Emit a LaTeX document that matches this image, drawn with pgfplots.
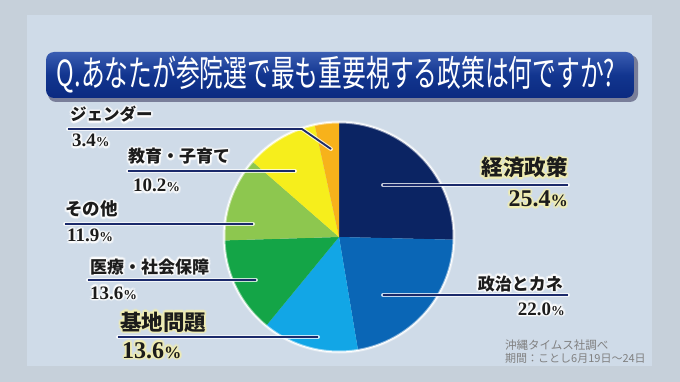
\documentclass[border=0pt]{standalone}
\usepackage{pgfplots}
\pgfplotsset{compat=1.18}
\usepackage{pgfplotstable}
\usepackage{fontspec}
\usepackage{graphicx}
\usetikzlibrary{calc}
\setmainfont{Liberation Serif}
\newfontfamily\jp{Noto Sans CJK JP}
\newfontfamily\num{Liberation Serif}

\definecolor{cA}{HTML}{0B2463}
\definecolor{cB}{HTML}{0A66B6}
\definecolor{cC}{HTML}{12A6E6}
\definecolor{cD}{HTML}{14A547}
\definecolor{cE}{HTML}{8DC74F}
\definecolor{cF}{HTML}{F6EE1C}
\definecolor{cG}{HTML}{F7B21B}
\definecolor{outerbg}{HTML}{C6D0DA}
\definecolor{panel}{HTML}{CFDBE8}
\definecolor{txt}{HTML}{1C1C1C}
\definecolor{lead}{HTML}{1B2A6B}
\definecolor{glowY}{HTML}{F3EFB0}
\definecolor{banT}{HTML}{3A5DB2}
\definecolor{banM}{HTML}{12358F}
\definecolor{banB}{HTML}{0B2A80}

\pgfplotstableread{
label v col
Keizai 25.4 cA
Seiji 22.0 cB
Kichi 13.6 cC
Iryo 13.6 cD
Sonota 11.9 cE
Kyoiku 10.2 cF
Gender 3.4 cG
}\piedata

% build the sector plots from the table
\def\plotcmds{}
\def\cum{0}
\pgfplotsforeachungrouped \k in {0,...,6}{%
  \pgfplotstablegetelem{\k}{v}\of\piedata \edef\val{\pgfplotsretval}%
  \pgfplotstablegetelem{\k}{col}\of\piedata \edef\colr{\pgfplotsretval}%
  \pgfmathsetmacro\astart{90-\cum*3.5964036}%
  \pgfmathsetmacro\newcum{\cum+\val}%
  \pgfmathsetmacro\aend{90-\newcum*3.5964036}%
  \xdef\plotcmds{\unexpanded\expandafter{\plotcmds}\noexpand\addplot[draw=none, fill=\colr, domain=\aend:\astart, samples=80, variable=\noexpand\tt] ({cos(\noexpand\tt)},{sin(\noexpand\tt)}) -- (axis cs:0,0) -- cycle;}%
  \xdef\cum{\newcum}%
}

\newcommand\pc{\scalebox{0.72}{\%}}
% #1 coord, #2 anchor, #3 glow colour, #4 content
\newcommand\glowtext[4]{%
  \foreach \a in {0,30,...,330}{\node[anchor=#2, inner sep=0, text=#3, opacity=.35] at ($(#1)+(\a:2.2pt)$) {#4};}
  \foreach \a in {0,45,...,315}{\node[anchor=#2, inner sep=0, text=#3, opacity=.6] at ($(#1)+(\a:1.1pt)$) {#4};}
  \node[anchor=#2, inner sep=0, text=txt] at (#1) {#4};
}
\newcommand\leader[1]{%
  \draw[white, opacity=.75, line width=4pt, line cap=round, line join=round] #1;
  \draw[lead, line width=1.8pt, line join=round] #1;
}

\begin{document}
\begin{tikzpicture}
\path[use as bounding box] (0pt,0pt) rectangle (680pt,-382pt);
\begin{scope}[x=1pt,y=-1pt]
\fill[outerbg] (0,0) rectangle (680,382);
\fill[panel] (27,15) rectangle (652,366);

% title banner
\fill[black!75!blue!60!gray, opacity=.55, rounded corners=8pt] (48,55) rectangle (638,102);
\shade[rounded corners=8pt, top color=banT, bottom color=banB, middle color=banM] (46,52) rectangle (634,98);
\node[text=white, inner sep=0] at (336,75) {\scalebox{0.66}[1]{\fontsize{36}{36}\selectfont\jp Q.あなたが参院選で最も重要視する政策は何ですか?}};
\end{scope}

\begin{axis}[at={(339pt,-237pt)}, anchor=center, x=115pt, y=115pt,
  xmin=-1, xmax=1, ymin=-1, ymax=1, hide axis, scale only axis,
  no markers, clip=false]
\plotcmds
\addplot[draw=white, opacity=.5, line width=3pt, domain=0:360, samples=181, variable=\tt] ({cos(\tt)},{sin(\tt)});
\addplot[draw=white, line width=1pt, domain=0:360, samples=181, variable=\tt] ({cos(\tt)},{sin(\tt)});
\end{axis}

\begin{scope}[x=1pt,y=-1pt]
% leader lines
\leader{(68,129) -- (302,129) -- (331,149)}
\leader{(128,171) -- (295,171)}
\leader{(65,224) -- (253,224)}
\leader{(88,280) -- (256,280)}
\leader{(118,337) -- (318,337)}
\leader{(383,185) -- (568,185)}
\leader{(383,295) -- (568,295)}

% labels
\glowtext{70,121}{base west}{white}{\fontsize{16.5}{16.5}\selectfont\jp\bfseries ジェンダー}
\glowtext{72,147}{base west}{white}{\fontsize{19}{19}\selectfont\num\bfseries 3.4\pc}
\glowtext{128,163}{base west}{white}{\fontsize{17}{17}\selectfont\jp\bfseries 教育・子育て}
\glowtext{133,192}{base west}{white}{\fontsize{19}{19}\selectfont\num\bfseries 10.2\pc}
\glowtext{65,216}{base west}{white}{\fontsize{17.5}{17.5}\selectfont\jp\bfseries その他}
\glowtext{67,242}{base west}{white}{\fontsize{19}{19}\selectfont\num\bfseries 11.9\pc}
\glowtext{90,273}{base west}{white}{\fontsize{17}{17}\selectfont\jp\bfseries 医療・社会保障}
\glowtext{90,299}{base west}{white}{\fontsize{19}{19}\selectfont\num\bfseries 13.6\pc}
\glowtext{120,330}{base west}{glowY}{\fontsize{21.5}{21.5}\selectfont\jp\bfseries 基地問題}
\glowtext{122,358}{base west}{glowY}{\fontsize{24}{24}\selectfont\num\bfseries 13.6\pc}
\glowtext{568,176}{base east}{glowY}{\fontsize{21.5}{21.5}\selectfont\jp\bfseries 経済政策}
\glowtext{568,207}{base east}{glowY}{\fontsize{24}{24}\selectfont\num\bfseries 25.4\pc}
\glowtext{563,290}{base east}{white}{\fontsize{17}{17}\selectfont\jp\bfseries 政治とカネ}
\glowtext{565,315}{base east}{white}{\fontsize{19}{19}\selectfont\num\bfseries 22.0\pc}

% source
\node[anchor=base west, inner sep=0, text=black!50] at (505,349) {\fontsize{11.5}{11.5}\selectfont\jp 沖縄タイムス社調べ};
\node[anchor=base west, inner sep=0, text=black!50] at (505,362) {\fontsize{11}{11}\selectfont\jp 期間：ことし6月19日～24日};
\end{scope}
\end{tikzpicture}
\end{document}
